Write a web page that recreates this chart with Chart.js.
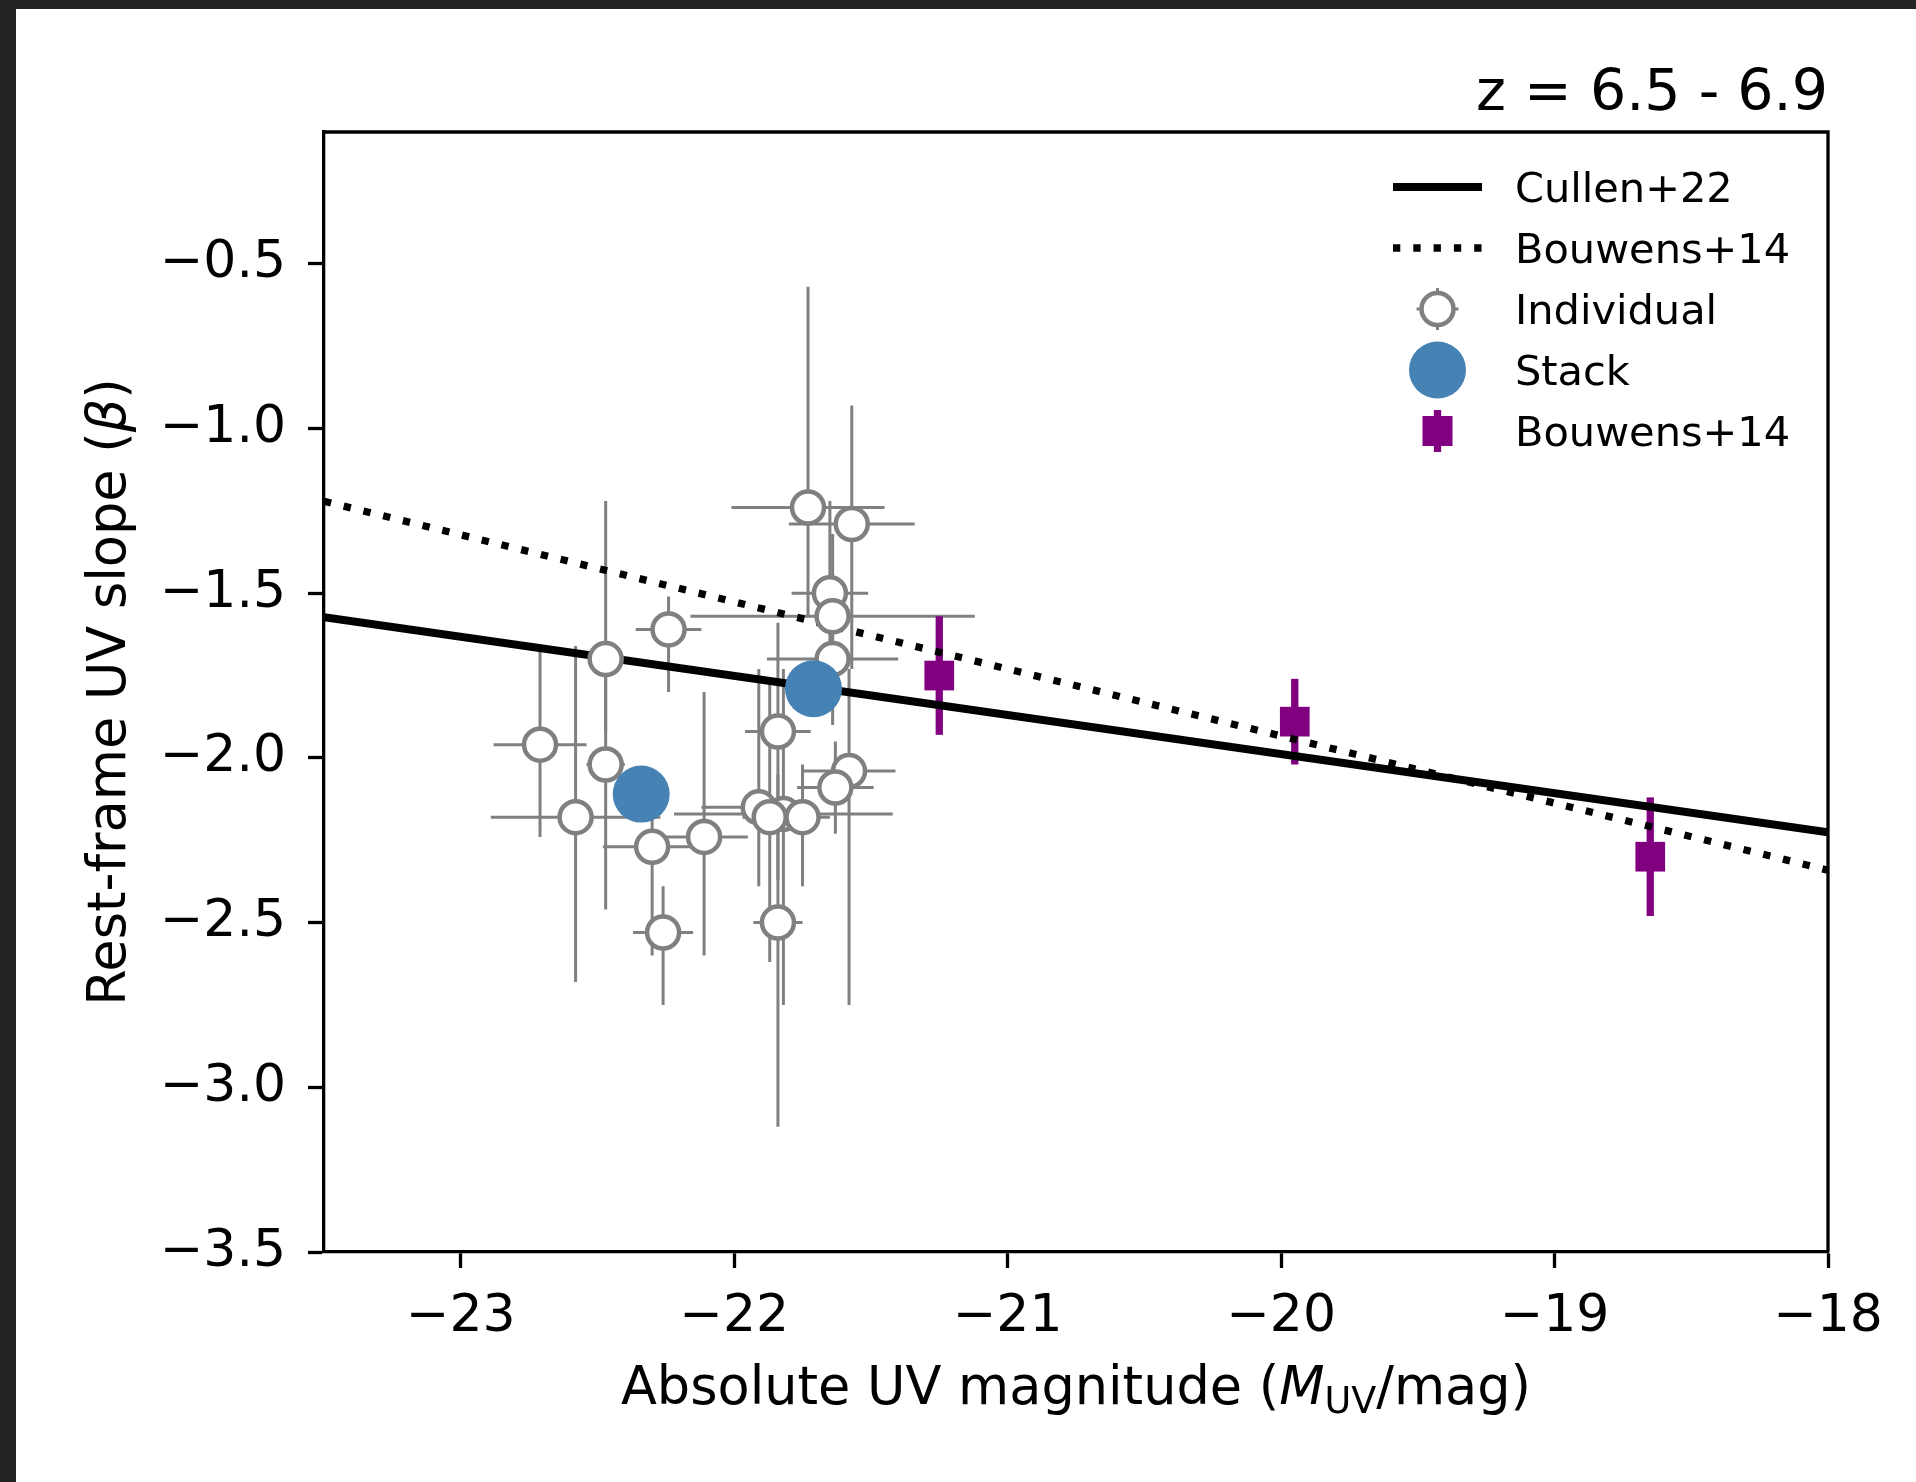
<!DOCTYPE html>
<html><head><meta charset="utf-8">
<script src="https://cdn.jsdelivr.net/npm/chart.js@4.4.0/dist/chart.umd.min.js"></script>
<style>
html,body{margin:0;padding:0;background:#232323;width:1916px;height:1482px;overflow:hidden}
#wrap{position:absolute;left:16px;top:9px;width:1900px;height:1473px;background:#fff}
canvas{display:block}
</style></head><body>
<div id="wrap"><canvas id="c" width="1900" height="1473"></canvas></div>
<script>
// ---------------- data ----------------
const indivMUV      = [-21.73,-21.57,-21.65,-21.64,-21.64,-22.24,-22.47,-22.71,-22.47,-22.58,-22.30,-22.11,-22.26,-21.84,-21.91,-21.82,-21.87,-21.75,-21.84,-21.58,-21.63];
const indivBeta     = [-1.24,-1.29,-1.50,-1.57,-1.70,-1.61,-1.70,-1.96,-2.02,-2.18,-2.27,-2.24,-2.53,-1.92,-2.15,-2.17,-2.18,-2.18,-2.50,-2.04,-2.09];
const indivMUVErr   = [0.28,0.23,0.14,0.52,0.24,0.12,0.05,0.17,0.07,0.31,0.18,0.16,0.11,0.12,0.21,0.40,0.10,0.10,0.09,0.17,0.14];
const indivBetaErrUp= [0.67,0.36,0.28,0.25,0.20,0.10,0.48,0.29,0.32,0.52,0.23,0.44,0.14,0.33,0.42,0.44,0.42,0.16,0.45,0.31,0.14];
const indivBetaErrLo= [0.33,0.44,0.28,0.25,0.20,0.19,0.22,0.28,0.44,0.50,0.33,0.36,0.22,0.45,0.24,0.58,0.44,0.21,0.62,0.71,0.14];
const stackMUV  = [-22.34,-21.71];
const stackBeta = [-2.11,-1.79];
const bouwensMUV     = [-21.25,-19.95,-18.65];
const bouwensBeta    = [-1.75,-1.89,-2.30];
const bouwensBetaErr = [0.18,0.13,0.18];
const fitMUV          = [-23.5,-18.0];
const cullenFitBeta   = [-1.573,-2.226];
const bouwensFitBeta  = [-1.221,-2.341];
const xTickValues = [-23,-22,-21,-20,-19,-18];
const yTickValues = [-3.5,-3.0,-2.5,-2.0,-1.5,-1.0,-0.5];
const titleText = 'z = 6.5 - 6.9';
const legendLabels = ['Cullen+22','Bouwens+14','Individual','Stack','Bouwens+14'];
// --------------------------------------

const FONT = '"DejaVu Sans"';
const GREY = '#808080', BLUE = '#4682b4', PURPLE = '#800080';
const fmtMinus = (v,d) => (v<0?'\u2212':'') + Math.abs(v).toFixed(d);

const errorBarPlugin = {
  id:'errbars',
  beforeDatasetsDraw(chart){
    const {ctx, chartArea:a, scales:{x,y}} = chart;
    ctx.save();
    ctx.beginPath(); ctx.rect(a.left,a.top,a.right-a.left,a.bottom-a.top); ctx.clip();
    ctx.lineCap='butt';
    ctx.strokeStyle=GREY; ctx.lineWidth=3;
    indivMUV.forEach((m,i)=>{
      const px=x.getPixelForValue(m), py=y.getPixelForValue(indivBeta[i]);
      ctx.beginPath();
      ctx.moveTo(x.getPixelForValue(m-indivMUVErr[i]),py);
      ctx.lineTo(x.getPixelForValue(m+indivMUVErr[i]),py);
      ctx.moveTo(px,y.getPixelForValue(indivBeta[i]+indivBetaErrUp[i]));
      ctx.lineTo(px,y.getPixelForValue(indivBeta[i]-indivBetaErrLo[i]));
      ctx.stroke();
    });
    ctx.strokeStyle=PURPLE; ctx.lineWidth=7.3;
    bouwensMUV.forEach((m,i)=>{
      const px=x.getPixelForValue(m);
      ctx.beginPath();
      ctx.moveTo(px,y.getPixelForValue(bouwensBeta[i]+bouwensBetaErr[i]));
      ctx.lineTo(px,y.getPixelForValue(bouwensBeta[i]-bouwensBetaErr[i]));
      ctx.stroke();
    });
    ctx.restore();
  }
};

function drawRuns(ctx, runs, x, y, align){
  let w=0;
  runs.forEach(r=>{ctx.font=r.font; r.w=ctx.measureText(r.text).width; w+=r.w;});
  let cx = align==='center'? x-w/2 : (align==='right'? x-w : x);
  ctx.textAlign='left'; ctx.textBaseline='alphabetic';
  runs.forEach(r=>{ctx.font=r.font; ctx.fillText(r.text,cx,y+(r.dy||0)); cx+=r.w;});
}

const decorPlugin = {
  id:'decor',
  afterDraw(chart){
    const {ctx, chartArea:a} = chart;
    ctx.save();
    // top & right spines
    ctx.strokeStyle='#000'; ctx.lineWidth=3.3; ctx.lineCap='butt';
    ctx.beginPath();
    ctx.moveTo(a.left-1.65,a.top); ctx.lineTo(a.right+1.65,a.top);
    ctx.moveTo(a.right,a.top); ctx.lineTo(a.right,a.bottom);
    ctx.stroke();
    ctx.fillStyle='#000';
    // title
    ctx.font='57px '+FONT; ctx.textAlign='right'; ctx.textBaseline='alphabetic';
    ctx.fillText(titleText, a.right, a.top-22);
    // x axis title
    const N='52.5px '+FONT, I='italic 52.5px '+FONT, S='36.5px '+FONT;
    drawRuns(ctx,[{text:'Absolute UV magnitude (',font:N},{text:'M',font:I},{text:'UV',font:S,dy:9},{text:'/mag)',font:N}],
      (a.left+a.right)/2, a.bottom+152, 'center');
    // y axis title
    ctx.save();
    ctx.translate(a.left-199,(a.top+a.bottom)/2);
    ctx.rotate(-Math.PI/2);
    drawRuns(ctx,[{text:'Rest-frame UV slope (',font:N},{text:'\u03b2',font:I},{text:')',font:N}],0,0,'center');
    ctx.restore();
    // legend
    const hx0=a.right-435, hx1=a.right-346, hc=(hx0+hx1)/2, tx=a.right-313;
    const rows=[0,1,2,3,4].map(i=>a.top+55+i*61);
    ctx.lineCap='butt';
    ctx.strokeStyle='#000'; ctx.lineWidth=8;
    ctx.beginPath(); ctx.moveTo(hx0,rows[0]); ctx.lineTo(hx1,rows[0]); ctx.stroke();
    ctx.lineWidth=7.3; ctx.setLineDash([7.3,13]);
    ctx.beginPath(); ctx.moveTo(hx0,rows[1]); ctx.lineTo(hx1,rows[1]); ctx.stroke();
    ctx.setLineDash([]);
    ctx.strokeStyle=GREY; ctx.lineWidth=3;
    ctx.beginPath(); ctx.moveTo(hc-21,rows[2]); ctx.lineTo(hc+21,rows[2]);
    ctx.moveTo(hc,rows[2]-21); ctx.lineTo(hc,rows[2]+21); ctx.stroke();
    ctx.beginPath(); ctx.arc(hc,rows[2],16,0,Math.PI*2); ctx.fillStyle='#fff'; ctx.fill();
    ctx.lineWidth=4.5; ctx.stroke();
    ctx.fillStyle=BLUE; ctx.beginPath(); ctx.arc(hc,rows[3],28.5,0,Math.PI*2); ctx.fill();
    ctx.strokeStyle=PURPLE; ctx.lineWidth=7.3;
    ctx.beginPath(); ctx.moveTo(hc,rows[4]-21); ctx.lineTo(hc,rows[4]+21); ctx.stroke();
    ctx.fillStyle=PURPLE; ctx.fillRect(hc-15,rows[4]-15,30,30);
    ctx.fillStyle='#000'; ctx.font='41.5px '+FONT; ctx.textAlign='left'; ctx.textBaseline='alphabetic';
    legendLabels.forEach((t,i)=>ctx.fillText(t,tx,rows[i]+15));
    ctx.restore();
  }
};

const tickFont = {family:'DejaVu Sans', size:52};
new Chart(document.getElementById('c'),{
  type:'scatter',
  data:{datasets:[
    {label:'Stack', data:stackMUV.map((m,i)=>({x:m,y:stackBeta[i]})), pointRadius:28.5, pointHoverRadius:28.5,
     pointBackgroundColor:BLUE, pointBorderWidth:0, borderWidth:0, order:0},
    {label:'Individual', data:indivMUV.map((m,i)=>({x:m,y:indivBeta[i]})), pointRadius:16, pointHoverRadius:16,
     pointBackgroundColor:'#fff', pointBorderColor:GREY, pointBorderWidth:4.5, order:1},
    {label:'Bouwens+14 relation', data:fitMUV.map((m,i)=>({x:m,y:bouwensFitBeta[i]})), showLine:true, borderColor:'#000',
     borderWidth:7.3, borderDash:[7.3,13], pointRadius:0, pointHoverRadius:0, order:2},
    {label:'Cullen+22', data:fitMUV.map((m,i)=>({x:m,y:cullenFitBeta[i]})), showLine:true, borderColor:'#000',
     borderWidth:8, pointRadius:0, pointHoverRadius:0, order:3},
    {label:'Bouwens+14', data:bouwensMUV.map((m,i)=>({x:m,y:bouwensBeta[i]})), pointStyle:'rect', pointRadius:21, pointHoverRadius:21,
     pointBackgroundColor:PURPLE, pointBorderWidth:0, borderWidth:0, order:4}
  ]},
  options:{
    responsive:false, animation:false, devicePixelRatio:1,
    layout:{padding:{left:108, top:123, right:88, bottom:100}},
    plugins:{legend:{display:false}, tooltip:{enabled:false}, title:{display:false}},
    events:[],
    scales:{
      x:{type:'linear', position:'bottom', min:-23.5, max:-18,
        afterFit(s){s.height=130;},
        afterBuildTicks(s){s.ticks=xTickValues.map(v=>({value:v}));},
        ticks:{font:tickFont, color:'#000', padding:18, maxRotation:0, autoSkip:false, callback:v=>fmtMinus(v,0)},
        grid:{drawOnChartArea:false, drawTicks:true, tickLength:16, tickWidth:3.3, tickColor:'#000', color:'#000'},
        border:{display:true, color:'#000', width:3.3}},
      y:{type:'linear', position:'left', min:-3.5, max:-0.1,
        afterFit(s){s.width=200;},
        afterBuildTicks(s){s.ticks=yTickValues.map(v=>({value:v}));},
        ticks:{font:tickFont, color:'#000', padding:22, autoSkip:false, callback:v=>fmtMinus(v,1)},
        grid:{drawOnChartArea:false, drawTicks:true, tickLength:16, tickWidth:3.3, tickColor:'#000', color:'#000'},
        border:{display:true, color:'#000', width:3.3}}
    }
  },
  plugins:[errorBarPlugin, decorPlugin]
});
</script>
</body></html>
